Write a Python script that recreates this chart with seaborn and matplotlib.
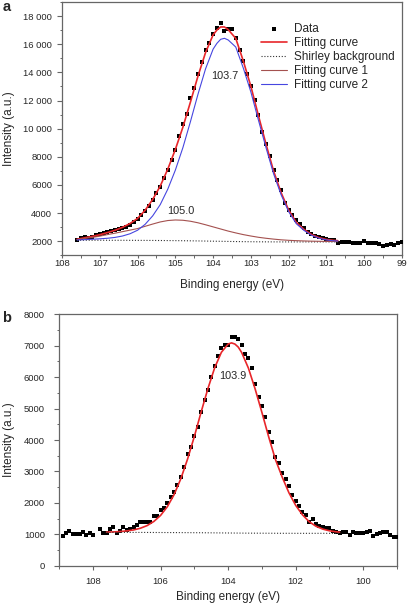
import numpy as np
import matplotlib
matplotlib.use("Agg")
import matplotlib.pyplot as plt
import seaborn as sns
from matplotlib.ticker import MultipleLocator, FuncFormatter

# ---- panel a: measured spectrum (107.6 -> 99.0 eV, 0.1 eV steps)
energy_a = np.round(np.arange(107.6, 98.95, -0.1), 1)
counts_a = [
    2121, 2200, 2311, 2240, 2334, 2453, 2524, 2571, 2690, 2761,
    2808, 2856, 2950, 3045, 3187, 3401, 3590, 3898, 4183, 4538,
    4941, 5415, 5889, 6505, 7074, 7750, 8450, 9500, 10300, 11058,
    12168, 12906, 13852, 14727, 15559, 16106, 16746, 17173, 17500, 16910,
    17100, 17100, 16440, 15607, 14800, 13852, 13000, 12053, 10937, 9752,
    8923, 8022, 7027, 6363, 5605, 4704, 4230, 3898, 3519, 3235,
    2950, 2642, 2524, 2405, 2287, 2216, 2168, 2097, 2097, 1860,
    1955, 1955, 1931, 1860, 1860, 1908, 2003, 1884, 1860, 1860,
    1813, 1695, 1742, 1813, 1766, 1860, 1931,
]

fit_energy = [
    107.6, 107.4, 107.2, 107.0, 106.8, 106.6, 106.4, 106.2, 106.0, 105.8,
    105.6, 105.4, 105.2, 105.0, 104.8, 104.6, 104.4, 104.2, 104.0, 103.9,
    103.8, 103.7, 103.6, 103.4, 103.2, 103.0, 102.8, 102.6, 102.4, 102.2,
    102.0, 101.8, 101.6, 101.4, 101.2, 101.0, 100.8, 100.7,
]
shirley_a = [
    2070, 2070, 2069, 2068, 2067, 2066, 2065, 2063, 2061, 2058,
    2055, 2051, 2047, 2042, 2036, 2029, 2021, 2012, 2003, 1998,
    1994, 1990, 1985, 1977, 1970, 1964, 1959, 1956, 1954, 1952,
    1951, 1950, 1950, 1950, 1950, 1950, 1950, 1950,
]
curve1_a = [
    2120, 2200, 2270, 2360, 2470, 2570, 2680, 2790, 2900, 3060,
    3220, 3370, 3470, 3510, 3490, 3420, 3310, 3170, 3020, 2945,
    2870, 2795, 2720, 2590, 2470, 2370, 2280, 2210, 2150, 2100,
    2065, 2040, 2020, 2005, 1995, 1985, 1978, 1975,
]
curve2_a = [
    2092, 2113, 2140, 2172, 2210, 2270, 2370, 2530, 2780, 3200,
    3800, 4600, 5700, 7050, 8650, 10500, 12450, 14250, 15650, 16060,
    16350, 16420, 16300, 15800, 14300, 12600, 10600, 8650, 6800, 5300,
    4100, 3250, 2780, 2430, 2210, 2090, 2030, 2015,
]
peak_labels_a = ["103.7", "105.0"]
peak_pos_a = [(103.69, 13750), (104.85, 4130)]

# ---- panel b: measured spectrum (108.9 -> 99.0 eV), one missing point at 107.9
energy_b = np.round(np.arange(108.9, 98.95, -0.1), 1)
counts_b = [
    946, 1052, 1116, 1000, 1000, 1000, 1063, 978, 1031, 978,
    np.nan, 1158, 1052, 1052, 1169, 1222, 1052, 1116, 1222, 1137,
    1158, 1222, 1285, 1402, 1402, 1381, 1402, 1582, 1582, 1773,
    1847, 2006, 2176, 2345, 2557, 2833, 3150, 3554, 3786, 4127,
    4423, 4900, 5272, 5590, 6013, 6354, 6672, 6917, 7022, 7022,
    7267, 7267, 7203, 7022, 6736, 6599, 6281, 5772, 5377, 5081,
    4720, 4250, 3945, 3449, 3258, 2959, 2749, 2536, 2249, 2068,
    1899, 1718, 1613, 1400, 1476, 1327, 1263, 1241, 1190, 1190,
    1104, 1082, 1031, 1082, 1082, 977, 1072, 1031, 1031, 1031,
    1082, 1104, 945, 1009, 1050, 1072, 1072, 977, 923, 900,
]
shirley_b = [
    1060, 1060, 1060, 1060, 1059, 1059, 1058, 1057, 1056, 1055,
    1054, 1053, 1052, 1050, 1049, 1047, 1045, 1043, 1041, 1040,
    1039, 1038, 1037, 1036, 1035, 1034, 1033, 1032, 1031, 1031,
    1030, 1030, 1030, 1030, 1030, 1030, 1030, 1030,
]
fit_b = [
    1069, 1075, 1087, 1108, 1138, 1192, 1276, 1408, 1601, 1878,
    2264, 2771, 3399, 4117, 4891, 5633, 6296, 6791, 7055, 7090,
    7053, 6955, 6785, 6287, 5621, 4876, 4100, 3379, 2820, 2320,
    1920, 1620, 1400, 1255, 1165, 1110, 1078, 1066,
]
peak_labels_b = ["103.9"]
peak_pos_b = [(103.86, 6040)]

RED = "#e8262a"
BROWN = "#a4514f"
BLUE = "#4646e0"
SPINE = "#666666"

sns.set_style("ticks")
plt.rcParams["font.family"] = ["Liberation Sans", "DejaVu Sans"]


def space_thousands(v, pos):
    v = int(round(v))
    if abs(v) >= 10000:
        return f"{v:,}".replace(",", " ")
    return f"{v}"


def style_axis(ax, xpad, ypad, xlen):
    for side in ["top", "right", "left", "bottom"]:
        ax.spines[side].set_visible(True)
        ax.spines[side].set_color(SPINE)
        ax.spines[side].set_linewidth(0.9)
    ax.tick_params(axis="y", which="major", length=3.4, width=0.8, color=SPINE,
                   labelsize=6.8, pad=ypad)
    ax.tick_params(axis="x", which="major", length=xlen, width=0.8, color=SPINE,
                   labelsize=6.8, pad=xpad)
    ax.tick_params(which="minor", length=1.8, width=0.7, color=SPINE)
    ax.tick_params(top=False, right=False, which="both")


fig = plt.figure(figsize=(4.08, 6.09), dpi=100)

# ---------------- panel a
ax1 = fig.add_axes([62 / 408, 1 - 255.3 / 609, 340 / 408, 253.3 / 609])
fit_a = np.array(curve1_a) + np.array(curve2_a) - np.array(shirley_a)

sns.scatterplot(x=energy_a, y=counts_a, ax=ax1, marker="s", s=6, color="black",
                linewidth=0, label="Data", zorder=3)
sns.lineplot(x=fit_energy, y=fit_a, ax=ax1, color=RED, lw=1.2, sort=False,
             estimator=None, label="Fitting curve", zorder=4)
sns.lineplot(x=fit_energy, y=shirley_a, ax=ax1, color="#333333", lw=0.8,
             linestyle=(0, (1, 1.6)), sort=False, estimator=None,
             label="Shirley background", zorder=4)
sns.lineplot(x=fit_energy, y=curve1_a, ax=ax1, color=BROWN, lw=0.8, sort=False,
             estimator=None, label="Fitting curve 1", zorder=5)
sns.lineplot(x=fit_energy, y=curve2_a, ax=ax1, color=BLUE, lw=0.8, sort=False,
             estimator=None, label="Fitting curve 2", zorder=5)

for txt, (ex, iy) in zip(peak_labels_a, peak_pos_a):
    ax1.text(ex, iy, txt, ha="center", va="center", fontsize=7.8)

ax1.set_xlim(108, 99)
ax1.set_ylim(1000, 19000)
ax1.xaxis.set_major_locator(MultipleLocator(1))
ax1.xaxis.set_minor_locator(MultipleLocator(0.5))
ax1.yaxis.set_major_locator(MultipleLocator(2000))
ax1.yaxis.set_minor_locator(MultipleLocator(1000))
ax1.yaxis.set_major_formatter(FuncFormatter(space_thousands))
ax1.xaxis.set_major_formatter(FuncFormatter(lambda v, p: f"{v:.0f}"))
style_axis(ax1, xpad=0.8, ypad=3.6, xlen=2.0)
ax1.set_xlabel("Binding energy (eV)", fontsize=8.5)
ax1.set_ylabel("Intensity (a.u.)", fontsize=8.5)
ax1.xaxis.set_label_coords(0.5, -0.095)
ax1.yaxis.set_label_coords(-0.138, 0.5)

leg = ax1.legend(loc="upper left", bbox_to_anchor=(0.585, 0.918), frameon=False,
                 fontsize=8.5, handlelength=2.2, handletextpad=0.6,
                 labelspacing=0.17, borderpad=0, borderaxespad=0, markerscale=1.3)

# ---------------- panel b
ax2 = fig.add_axes([59.3 / 408, 1 - 565.7 / 609, 337.7 / 408, 251.4 / 609])
sns.scatterplot(x=energy_b, y=counts_b, ax=ax2, marker="s", s=6, color="black",
                linewidth=0, zorder=3, legend=False)
sns.lineplot(x=fit_energy, y=fit_b, ax=ax2, color=RED, lw=1.2, sort=False,
             estimator=None, zorder=4, legend=False)
sns.lineplot(x=fit_energy, y=shirley_b, ax=ax2, color="#333333", lw=0.8,
             linestyle=(0, (1, 1.6)), sort=False, estimator=None, zorder=4,
             legend=False)
for txt, (ex, iy) in zip(peak_labels_b, peak_pos_b):
    ax2.text(ex, iy, txt, ha="center", va="center", fontsize=7.8)

ax2.set_xlim(109, 99)
ax2.set_ylim(0, 8000)
ax2.xaxis.set_major_locator(MultipleLocator(2))
ax2.xaxis.set_minor_locator(MultipleLocator(1))
ax2.yaxis.set_major_locator(MultipleLocator(1000))
ax2.yaxis.set_minor_locator(MultipleLocator(500))
ax2.xaxis.set_major_formatter(FuncFormatter(lambda v, p: f"{v:.0f}"))
style_axis(ax2, xpad=5.0, ypad=7.0, xlen=3.0)
ax2.set_xlabel("Binding energy (eV)", fontsize=8.5)
ax2.set_ylabel("Intensity (a.u.)", fontsize=8.5)
ax2.xaxis.set_label_coords(0.5, -0.099)
ax2.yaxis.set_label_coords(-0.131, 0.5)

fig.text(0.006, 1 - 7 / 609, "a", fontsize=10.5, fontweight="bold", va="center")
fig.text(0.006, 1 - 318 / 609, "b", fontsize=10.5, fontweight="bold", va="center")

fig.savefig("out.png", dpi=100)
